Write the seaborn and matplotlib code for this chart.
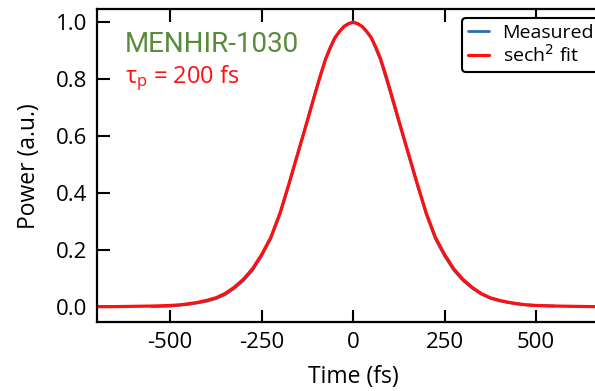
import numpy as np
import pandas as pd
import matplotlib
matplotlib.use("Agg")
import matplotlib.pyplot as plt
import seaborn as sns

# values
fit_time = [-700, -650, -600, -550, -500, -475, -450, -425, -400, -375, -350, -325,
            -300, -275, -250, -225, -200, -175, -150, -125, -112.5, -100, -87.5,
            -75, -62.5, -50, -37.5, -25, -12.5, 0, 12.5, 25, 37.5, 50, 62.5, 75,
            87.5, 100, 112.5, 125, 150, 175, 200, 225, 250, 275, 300, 325, 350,
            375, 400, 425, 450, 475, 500, 550, 600, 650, 700]
fit_power = [0.002, 0.002, 0.003, 0.004, 0.006, 0.008, 0.012, 0.017, 0.024, 0.033,
             0.048, 0.070, 0.098, 0.135, 0.185, 0.245, 0.330, 0.435, 0.545, 0.655,
             0.712, 0.768, 0.822, 0.872, 0.912, 0.945, 0.968, 0.985, 0.996, 1.000,
             0.996, 0.985, 0.968, 0.945, 0.912, 0.872, 0.822, 0.768, 0.712, 0.655,
             0.545, 0.435, 0.330, 0.245, 0.185, 0.135, 0.098, 0.070, 0.048, 0.033,
             0.024, 0.017, 0.012, 0.008, 0.006, 0.004, 0.003, 0.002, 0.002]

meas_time = [-550, -525, -500, -475, -450, -425, -400, -375, -350, -325, -300, -275,
             -250, -225, -200, -175, -150, -125, -100, -75, -50, -25, 0, 25, 50,
             75, 100, 125, 150, 175, 200, 225, 250, 275, 300, 325, 350, 375, 400,
             425, 450, 475, 500, 525, 550]
meas_power = [0.002, 0.003, 0.004, 0.007, 0.010, 0.015, 0.021, 0.030, 0.044, 0.066,
              0.093, 0.130, 0.180, 0.242, 0.326, 0.433, 0.545, 0.656, 0.768, 0.872,
              0.947, 0.987, 1.002, 0.986, 0.946, 0.868, 0.762, 0.651, 0.541, 0.431,
              0.326, 0.240, 0.180, 0.130, 0.094, 0.067, 0.046, 0.031, 0.022, 0.016,
              0.011, 0.008, 0.006, 0.005, 0.004]

fit_df = pd.DataFrame({"t": fit_time, "p": fit_power})
meas_df = pd.DataFrame({"t": meas_time, "p": meas_power})

sns.set_style("ticks")
plt.rcParams['font.family'] = ['Open Sans', 'DejaVu Sans']
plt.rcParams['axes.unicode_minus'] = False
for key in ['text.color', 'axes.labelcolor', 'xtick.color', 'ytick.color', 'axes.edgecolor']:
    plt.rcParams[key] = 'black'
plt.rcParams['axes.linewidth'] = 1.6

fig = plt.figure(figsize=(5.95, 3.91), dpi=100)
# axes run past the right edge, as in the cropped original
ax = fig.add_axes([0.163, 0.1765, 0.861, 0.7997])

sns.lineplot(data=meas_df, x="t", y="p", ax=ax, color="#2f6cb4", linewidth=2.0,
             label="Measured")
sns.lineplot(data=fit_df, x="t", y="p", ax=ax, color="#ff1010", linewidth=2.3,
             label="sech$^2$ fit")

ax.set_xlim(-700, 700)
ax.set_ylim(-0.052, 1.046)
ax.set_xticks([-500, -250, 0, 250, 500])
ax.set_yticks([0.0, 0.2, 0.4, 0.6, 0.8, 1.0])
ax.set_yticklabels(["0.0", "0.2", "0.4", "0.6", "0.8", "1.0"])
ax.tick_params(axis="both", which="major", direction="in", labelsize=16, length=9,
               width=1.5, top=True, right=True, pad=7)
ax.set_xlabel("Time (fs)", fontsize=16.5, labelpad=9)
ax.set_ylabel("Power (a.u.)", fontsize=16.5, labelpad=11)

ax.text(0.055, 0.864, "MENHIR-1030", transform=ax.transAxes, fontsize=20,
        color="#5a8a3b", family=["Roboto", "DejaVu Sans"], va="baseline")
ax.text(0.055, 0.763, r"$\mathregular{\tau_p}$ = 200 fs", transform=ax.transAxes,
        fontsize=17, color="#ff1010", va="baseline")

leg = ax.legend(loc="upper right", bbox_to_anchor=(0.982, 0.972), fontsize=14,
                frameon=True, fancybox=True, handlelength=1.1, borderpad=0.3,
                labelspacing=0.1, handletextpad=0.7, borderaxespad=0)
leg.get_frame().set_edgecolor("black")
leg.get_frame().set_linewidth(1.5)
leg.get_frame().set_alpha(1)

fig.savefig("out.png", dpi=100)
